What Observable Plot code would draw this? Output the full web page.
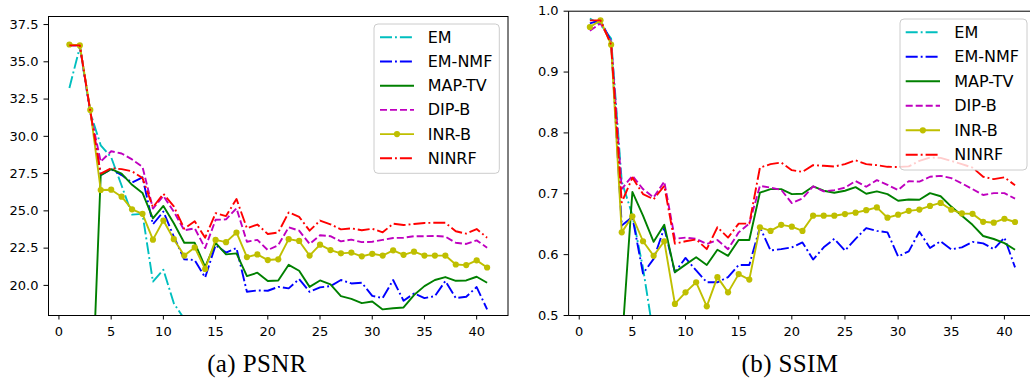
<!DOCTYPE html>
<html>
<head>
<meta charset="utf-8">
<script src="https://cdn.jsdelivr.net/npm/d3@7"></script>
<script src="https://cdn.jsdelivr.net/npm/@observablehq/plot@0.6"></script>
<style>
  html, body { margin: 0; padding: 0; background: #fff; overflow: hidden; }
  #fig { position: relative; width: 1030px; height: 381px; overflow: hidden; background: #fff; }
  .panel { position: absolute; top: 0; }
  .legend { position: absolute; top: 0; left: 0; overflow: visible; }
  .caption { position: absolute; top: 350px; font-family: "Liberation Serif", serif; font-size: 25px;
             color: #000; white-space: nowrap; transform: translateX(-50%); letter-spacing: 0.4px; }
</style>
</head>
<body>
<div id="fig"></div>
<script>
// Iterations 1..41 on the x axis
const iterations = d3.range(1, 42);

const methods = ["EM", "EM-NMF", "MAP-TV", "DIP-B", "INR-B", "NINRF"];
const colors = ["#00bfbf", "#0000ff", "#008000", "#bf00bf", "#bfbf00", "#ff0000"];
const dashes = ["12,3,1.9,3", "12,3,1.9,3", null, "7,3", null, "12,3,1.9,3"];

// PSNR per iteration
const psnrEM = [33.25, 35.98, 31.6, 29.4, 28.6, 26.7, 24.75, 24.8, 20.25, 21.05, 18.8, 17.75];
const psnrEMNMF = [36.1, 36.1, 31.7, 27.4, 27.8, 27.4, 26.9, 27.25, 24.1, 24.95, 23.27, 21.75, 21.7, 20.53, 22.7, 22.2, 22.5, 19.57, 19.66, 19.64, 19.9, 19.8, 20.42, 19.57, 19.87, 19.95, 20.36, 20.13, 20.18, 19.3, 19.15, 20.36, 18.97, 19.46, 19.15, 19.28, 20.29, 19.15, 19.24, 19.89, 18.39];
const psnrMAPTV = [8.6, 8.9, 9.3, 27.4, 27.8, 27.5, 26.75, 26.2, 24.5, 25.33, 24.17, 22.86, 22.86, 21.25, 22.86, 22.08, 22.15, 20.62, 20.85, 20.29, 20.33, 21.38, 20.98, 19.9, 20.33, 20.07, 19.28, 19.1, 18.81, 18.92, 18.39, 18.47, 18.52, 19.35, 19.95, 20.36, 20.56, 20.31, 20.33, 20.58, 20.18];
const psnrDIPB = [36.1, 36.1, 31.6, 28.3, 29.0, 28.85, 28.45, 27.95, 25.15, 26.0, 24.95, 23.7, 23.83, 22.5, 24.4, 24.43, 25.17, 22.93, 23.05, 22.37, 22.7, 23.9, 23.67, 22.78, 23.36, 23.3, 22.95, 23.07, 22.9, 22.93, 23.05, 23.18, 23.2, 23.3, 23.3, 23.32, 23.27, 22.86, 22.78, 23.02, 22.53];
const psnrINRB = [36.16, 36.1, 31.77, 26.4, 26.42, 25.95, 25.1, 24.8, 23.07, 24.35, 23.1, 22.0, 22.55, 21.1, 23.05, 22.9, 23.55, 21.9, 22.08, 21.7, 21.75, 23.1, 22.98, 22.0, 22.73, 22.37, 22.15, 22.2, 21.95, 22.12, 22.0, 22.35, 22.05, 22.26, 22.0, 22.0, 22.0, 21.4, 21.36, 21.68, 21.2];
const psnrNINRF = [36.1, 36.1, 31.7, 27.5, 27.86, 27.8, 27.65, 27.2, 25.24, 26.15, 25.3, 23.8, 24.3, 23.2, 24.85, 24.65, 25.8, 23.83, 24.08, 23.45, 23.55, 24.9, 24.6, 23.67, 24.35, 24.1, 23.76, 23.83, 23.7, 23.8, 23.56, 24.14, 24.05, 24.12, 24.19, 24.2, 24.2, 23.63, 23.47, 23.78, 23.2];

// SSIM per iteration
const ssimEM = [0.988, 0.978, 0.955, 0.72, 0.665, 0.578, 0.466];
const ssimEMNMF = [0.98, 0.985, 0.95, 0.648, 0.662, 0.569, 0.593, 0.644, 0.571, 0.5946, 0.574, 0.5546, 0.5546, 0.563, 0.583, 0.583, 0.645, 0.607, 0.609, 0.612, 0.62, 0.592, 0.612, 0.626, 0.6066, 0.626, 0.6437, 0.639, 0.6366, 0.597, 0.6054, 0.6377, 0.611, 0.622, 0.6087, 0.612, 0.621, 0.6186, 0.609, 0.628, 0.579];
const ssimMAPTV = [0.38, 0.4, 0.42, 0.45, 0.703, 0.664, 0.621, 0.649, 0.571, 0.5836, 0.5956, 0.583, 0.608, 0.598, 0.624, 0.624, 0.702, 0.7077, 0.7077, 0.6995, 0.7, 0.712, 0.705, 0.7016, 0.705, 0.711, 0.7, 0.704, 0.6995, 0.6885, 0.6907, 0.6902, 0.701, 0.696, 0.679, 0.664, 0.649, 0.6306, 0.6257, 0.619, 0.608];
const ssimDIPB = [0.968, 0.98, 0.95, 0.708, 0.7295, 0.7077, 0.694, 0.72, 0.626, 0.628, 0.626, 0.6175, 0.624, 0.609, 0.6366, 0.651, 0.713, 0.71, 0.7066, 0.6847, 0.6923, 0.712, 0.704, 0.706, 0.71, 0.721, 0.7115, 0.7224, 0.7148, 0.706, 0.7208, 0.72, 0.728, 0.7295, 0.7257, 0.717, 0.7077, 0.698, 0.701, 0.701, 0.692];
const ssimINRB = [0.974, 0.985, 0.945, 0.6366, 0.663, 0.622, 0.598, 0.622, 0.519, 0.538, 0.5546, 0.515, 0.563, 0.538, 0.568, 0.559, 0.645, 0.639, 0.649, 0.646, 0.639, 0.664, 0.664, 0.664, 0.6667, 0.669, 0.673, 0.6776, 0.6607, 0.6656, 0.672, 0.674, 0.68, 0.685, 0.6738, 0.6677, 0.667, 0.654, 0.6525, 0.659, 0.6536];
const ssimNINRF = [0.985, 0.985, 0.945, 0.686, 0.7267, 0.6995, 0.691, 0.713, 0.618, 0.622, 0.625, 0.609, 0.645, 0.628, 0.651, 0.651, 0.743, 0.7487, 0.7513, 0.7388, 0.736, 0.747, 0.746, 0.7448, 0.7487, 0.755, 0.7487, 0.747, 0.7443, 0.744, 0.745, 0.754, 0.7595, 0.759, 0.754, 0.7487, 0.743, 0.728, 0.724, 0.727, 0.714];

const xTicks = [0, 5, 10, 15, 20, 25, 30, 35, 40];
const psnrTicks = [20.0, 22.5, 25.0, 27.5, 30.0, 32.5, 35.0, 37.5];
const ssimTicks = [0.5, 0.6, 0.7, 0.8, 0.9, 1.0];

const captions = ["(a) PSNR", "(b) SSIM"];

function rowsOf(values) {
  return values.map((v, i) => ({x: iterations[i], y: v}));
}

function panel(series, opts) {
  const marks = [];
  series.forEach((values, k) => {
    const rows = rowsOf(values);
    marks.push(Plot.line(rows, {
      x: "x", y: "y", stroke: colors[k], strokeWidth: 1.9,
      strokeDasharray: dashes[k] ?? undefined, strokeLinejoin: "round",
      strokeLinecap: "butt", clip: true
    }));
    if (methods[k] === "INR-B") {
      marks.push(Plot.dot(rows, {x: "x", y: "y", r: 3.1, fill: colors[k], clip: true}));
    }
  });
  marks.push(Plot.frame({stroke: "#000", strokeWidth: 1}));
  return Plot.plot({
    width: opts.width, height: opts.height,
    marginLeft: opts.marginLeft, marginRight: opts.marginRight,
    marginTop: opts.marginTop, marginBottom: opts.marginBottom,
    style: {fontFamily: "DejaVu Sans", fontSize: "13px", color: "#000", background: "transparent", overflow: "visible"},
    x: {domain: [-1, 43], ticks: xTicks, tickSize: 4.5, tickPadding: 6.5, label: null, tickFormat: d => String(d)},
    y: {domain: opts.yDomain, ticks: opts.yTicks, tickSize: 4.5, tickPadding: 5.5, label: null, tickFormat: opts.yFormat},
    marks
  });
}

function legend(box) {
  const ns = "http://www.w3.org/2000/svg";
  const svg = document.createElementNS(ns, "svg");
  svg.setAttribute("class", "legend");
  svg.setAttribute("width", 1030);
  svg.setAttribute("height", 381);
  const rect = document.createElementNS(ns, "rect");
  Object.entries({x: box.x, y: box.y, width: box.w, height: box.h, rx: 4, fill: "#fff", "fill-opacity": 0.8, stroke: "#cccccc", "stroke-width": 1})
    .forEach(([k, v]) => rect.setAttribute(k, v));
  svg.appendChild(rect);
  methods.forEach((name, k) => {
    const cy = box.y + box.first + box.step * k;
    const line = document.createElementNS(ns, "line");
    Object.entries({x1: box.lx0, x2: box.lx1, y1: cy, y2: cy, stroke: colors[k], "stroke-width": 1.9})
      .forEach(([a, v]) => line.setAttribute(a, v));
    if (dashes[k]) line.setAttribute("stroke-dasharray", dashes[k]);
    svg.appendChild(line);
    if (name === "INR-B") {
      const c = document.createElementNS(ns, "circle");
      Object.entries({cx: (box.lx0 + box.lx1) / 2, cy, r: 3.1, fill: colors[k]}).forEach(([a, v]) => c.setAttribute(a, v));
      svg.appendChild(c);
    }
    const t = document.createElementNS(ns, "text");
    Object.entries({x: box.tx, y: cy, "dominant-baseline": "central", "font-family": "DejaVu Sans", "font-size": 16, fill: "#000"})
      .forEach(([a, v]) => t.setAttribute(a, v));
    t.textContent = name;
    svg.appendChild(t);
  });
  return svg;
}

const fig = document.getElementById("fig");

const left = panel([psnrEM, psnrEMNMF, psnrMAPTV, psnrDIPB, psnrINRB, psnrNINRF], {
  width: 510, height: 345, marginLeft: 48, marginRight: 2.5, marginTop: 16, marginBottom: 30,
  yDomain: [17.98, 38.04], yTicks: psnrTicks, yFormat: d => d.toFixed(1)
});
left.classList.add("panel");
left.style.left = "0px";
fig.appendChild(left);

const right = panel([ssimEM, ssimEMNMF, ssimMAPTV, ssimDIPB, ssimINRB, ssimNINRF], {
  width: 520, height: 345, marginLeft: 48.1, marginRight: 4.2, marginTop: 10.7, marginBottom: 34.3 - 4.3,
  yDomain: [0.5, 1.0], yTicks: ssimTicks, yFormat: d => d.toFixed(1)
});
right.classList.add("panel");
right.style.left = "520px";
fig.appendChild(right);

fig.appendChild(legend({x: 374, y: 24, w: 125.3, h: 149.3, first: 13.3, step: 24.2, lx0: 380, lx1: 414, tx: 427.7}));
fig.appendChild(legend({x: 900, y: 19, w: 127, h: 151, first: 13.3, step: 24.5, lx0: 905.7, lx1: 940, tx: 954.3}));

[[257, captions[0]], [790, captions[1]]].forEach(([cx, text]) => {
  const d = document.createElement("div");
  d.className = "caption";
  d.style.left = cx + "px";
  d.textContent = text;
  fig.appendChild(d);
});
</script>
</body>
</html>
